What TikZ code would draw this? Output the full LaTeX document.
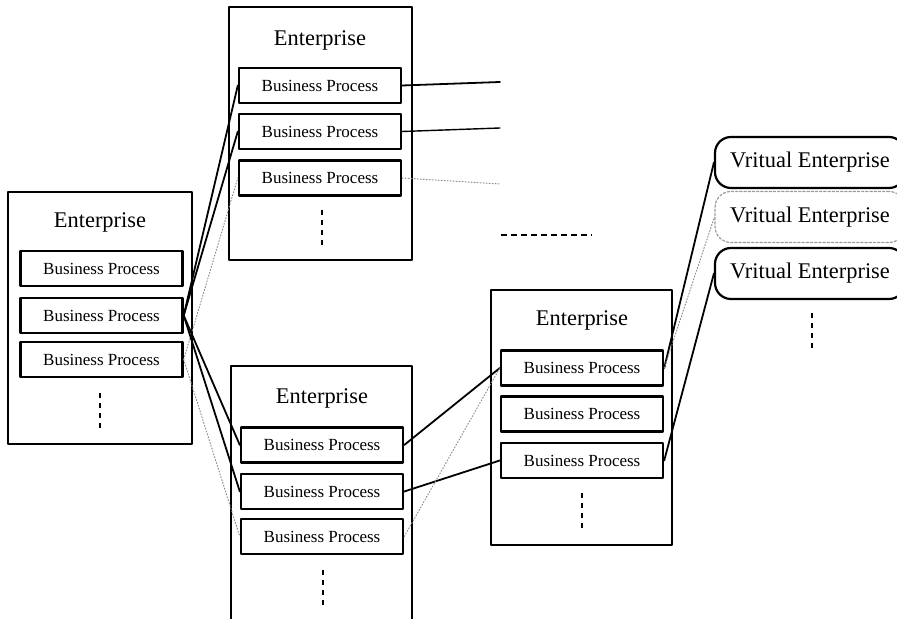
\documentclass[tikz,border=0pt]{standalone}
\usepackage{fontspec}
\setmainfont{Liberation Serif}
\usetikzlibrary{calc}

\begin{document}
\begin{tikzpicture}[x=0.5pt, y=-0.5pt, line cap = round, line join = round]
\tikzstyle{entbox}=[draw=black, line width=1.2pt, rectangle, inner sep=0pt]
\tikzstyle{enttitle}=[font=\fontsize{11.2}{13}\selectfont, inner sep=0pt]
\tikzstyle{bpbox}=[draw=black, line width=1.2pt, rectangle, fill=white, minimum width=81pt, minimum height=17.5pt, inner sep=0pt, font=\fontsize{8.5}{10}\selectfont]
\tikzstyle{vebox}=[draw=black, line width=1.1pt, rectangle, rounded corners=8pt, minimum width=95pt, minimum height=25.5pt, inner sep=0pt, font=\fontsize{11.2}{13}\selectfont]
\tikzstyle{strong}=[line width=0.9pt, color=black]
\tikzstyle{weak}=[line width=0.5pt, densely dotted, color=black!45]
\tikzstyle{vdots}=[line width=1.3pt, line cap=butt, dash pattern=on 2.5pt off 2.5pt]
\useasboundingbox (0,0) rectangle (897,619);

% left enterprise
\node[entbox, minimum width=92pt, minimum height=126pt] (entL) at (100,318) {};
\node[enttitle] (titleL) at (100,222) {Enterprise};
\node[bpbox] (lbp1) at (101.5,268.5) {Business Process};
\node[bpbox] (lbp2) at (101.5,315.5) {Business Process};
\node[bpbox] (lbp3) at (101.5,359.5) {Business Process};
\draw[vdots] (100,393) -- (100,430);

% top enterprise
\node[entbox, minimum width=91.5pt, minimum height=126.5pt] (entT) at (320.5,133.5) {};
\node[enttitle] (titleT) at (320,40) {Enterprise};
\node[bpbox] (tbp1) at (320,85.5) {Business Process};
\node[bpbox] (tbp2) at (320,131.5) {Business Process};
\node[bpbox] (tbp3) at (320,178) {Business Process};
\draw[vdots] (322,210) -- (322,248);

% bottom enterprise
\node[entbox, minimum width=90.5pt, minimum height=129.5pt] (entB) at (321.5,495.5) {};
\node[enttitle] (titleB) at (322,398) {Enterprise};
\node[bpbox] (bbp1) at (322,445) {Business Process};
\node[bpbox] (bbp2) at (322,491.5) {Business Process};
\node[bpbox] (bbp3) at (322,536.5) {Business Process};
\draw[vdots] (323,570) -- (323,607);

% right enterprise
\node[entbox, minimum width=90.5pt, minimum height=127.5pt] (entR) at (581.5,417.5) {};
\node[enttitle] (titleR) at (582,320) {Enterprise};
\node[bpbox] (rbp1) at (582,368) {Business Process};
\node[bpbox] (rbp2) at (582,414) {Business Process};
\node[bpbox] (rbp3) at (582,460.5) {Business Process};
\draw[vdots] (582,493) -- (582,530);

% virtual enterprises
\node[vebox] (ve1) at (810,162.5) {Vritual Enterprise};
\node[vebox, draw=black!40, densely dotted, line width=0.6pt] (ve2) at (810,217) {Vritual Enterprise};
\node[vebox] (ve3) at (810,273.5) {Vritual Enterprise};
\draw[vdots] (812,313) -- (812,352);

% open ends
\coordinate (out1) at (500,82);
\coordinate (out2) at (500,128);
\coordinate (out3) at (500,184);
\coordinate (gapL) at (501,235);
\coordinate (gapR) at (592,235);

\draw[strong] (lbp2.east) -- (tbp1.west);
\draw[strong] (lbp2.east) -- (tbp2.west);
\draw[weak] (lbp3.east) -- (tbp3.west);
\draw[strong] (lbp2.east) -- (bbp1.west);
\draw[strong] (lbp2.east) -- (bbp2.west);
\draw[weak] (lbp3.east) -- (bbp3.west);

\draw[strong] (tbp1.east) -- (out1);
\draw[strong, line width=0.7pt] (tbp2.east) -- (out2);
\draw[weak] (tbp3.east) -- (out3);
\draw[line width=1.3pt, line cap=butt, dash pattern=on 3pt off 2pt] (gapL) -- (gapR);

\draw[strong] (bbp1.east) -- (rbp1.west);
\draw[strong] (bbp2.east) -- (rbp3.west);
\draw[weak] (bbp3.east) -- (rbp1.west);

\draw[strong] (rbp1.east) -- (ve1.west);
\draw[weak] (rbp1.east) -- (ve2.west);
\draw[strong] (rbp3.east) -- (ve3.west);
\end{tikzpicture}
\end{document}
